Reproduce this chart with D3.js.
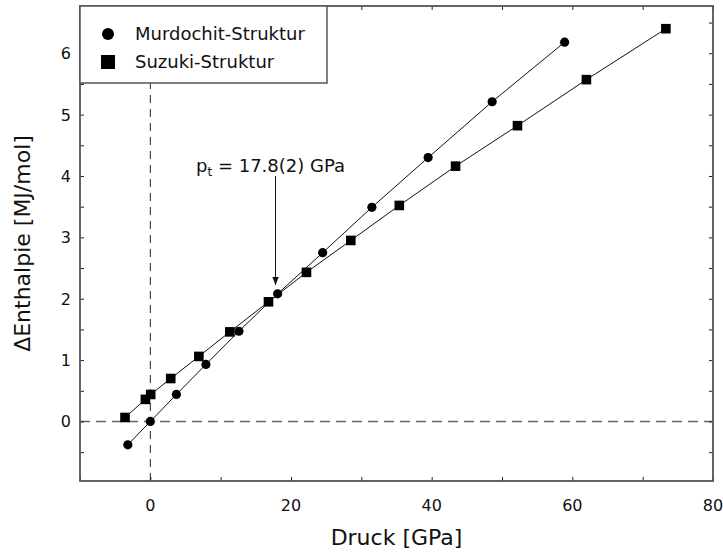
<!DOCTYPE html>
<html>
<head>
<meta charset="utf-8">
<script src="https://cdn.jsdelivr.net/npm/d3@7"></script>
<style>
  body { margin: 0; background: #fff; }
  text { font-family: "DejaVu Sans", sans-serif; fill: #111; }
</style>
</head>
<body>
<div id="chart"></div>
<script>
// Murdochit-Struktur (circles)
var murdP = [-3.2, 0, 3.7, 7.9, 12.6, 18.1, 24.5, 31.5, 39.5, 48.6, 58.9];
var murdH = [-0.38, 0, 0.44, 0.93, 1.47, 2.08, 2.75, 3.49, 4.30, 5.21, 6.18];
// Suzuki-Struktur (squares)
var suzP = [-3.6, -0.7, 0.05, 2.9, 6.9, 11.3, 16.8, 22.2, 28.5, 35.4, 43.4, 52.2, 62.0, 73.3];
var suzH = [0.065, 0.36, 0.44, 0.70, 1.06, 1.46, 1.95, 2.43, 2.95, 3.52, 4.16, 4.82, 5.57, 6.40];

var xTicks = [0, 20, 40, 60, 80];
var yTicks = [0, 1, 2, 3, 4, 5, 6];
var legendNames = ['Murdochit-Struktur', 'Suzuki-Struktur'];
var pTransition = 17.8;

var width = 723, height = 555;
var margin = { left: 80, right: 10, top: 6, bottom: 74 };

var svg = d3.select('#chart').append('svg')
  .attr('width', width)
  .attr('height', height);

var x = d3.scaleLinear().domain([-10, 80]).range([margin.left, width - margin.right]);
var y = d3.scaleLinear().domain([-0.97, 6.77]).range([height - margin.bottom, margin.top]);

var x0 = margin.left, x1 = width - margin.right;
var y0 = height - margin.bottom, y1 = margin.top;

// dashed zero lines
svg.append('line')
  .attr('x1', x0).attr('x2', x1)
  .attr('y1', y(0)).attr('y2', y(0))
  .style('stroke', '#666').style('stroke-width', 1.5)
  .style('stroke-dasharray', '10,6');

svg.append('line')
  .attr('x1', x(0)).attr('x2', x(0))
  .attr('y1', y0).attr('y2', 83)
  .style('stroke', '#222').style('stroke-width', 1)
  .style('stroke-dasharray', '8,6');

// axes (ticks inside)
var minorX = d3.range(-10, 81, 10);
var minorY = d3.range(-0.5, 6.6, 0.5);

svg.append('g')
  .attr('transform', 'translate(0,' + y0 + ')')
  .call(d3.axisBottom(x).tickValues(minorX).tickSize(-4).tickFormat(''));
svg.append('g')
  .attr('transform', 'translate(0,' + y1 + ')')
  .call(d3.axisTop(x).tickValues(minorX).tickSize(-4).tickFormat(''));
svg.append('g')
  .attr('transform', 'translate(' + x0 + ',0)')
  .call(d3.axisLeft(y).tickValues(minorY).tickSize(-4).tickFormat(''));
svg.append('g')
  .attr('transform', 'translate(' + x1 + ',0)')
  .call(d3.axisRight(y).tickValues(minorY).tickSize(-4).tickFormat(''));

svg.selectAll('.domain').remove();
svg.selectAll('.tick line').style('stroke', '#222').style('stroke-width', 1);

// tick labels
svg.selectAll('.xlab')
  .data(xTicks)
  .enter().append('text')
  .attr('x', function (d) { return x(d); })
  .attr('y', y0 + 30)
  .style('text-anchor', 'middle')
  .style('font-size', '16px')
  .text(function (d) { return d; });

svg.selectAll('.ylab')
  .data(yTicks)
  .enter().append('text')
  .attr('x', x0 - 9)
  .attr('y', function (d) { return y(d) + 6; })
  .style('text-anchor', 'end')
  .style('font-size', '16px')
  .text(function (d) { return d; });

// frame
svg.append('rect')
  .attr('x', x0).attr('y', y1)
  .attr('width', x1 - x0).attr('height', y0 - y1)
  .style('fill', 'none').style('stroke', '#555').style('stroke-width', 1.8);

// series lines
var line = d3.line()
  .x(function (d) { return x(d[0]); })
  .y(function (d) { return y(d[1]); });

var murd = d3.zip(murdP, murdH);
var suz = d3.zip(suzP, suzH);

svg.append('path').attr('d', line(murd))
  .style('fill', 'none').style('stroke', '#111').style('stroke-width', 1);
svg.append('path').attr('d', line(suz))
  .style('fill', 'none').style('stroke', '#111').style('stroke-width', 1);

svg.selectAll('.murd')
  .data(murd)
  .enter().append('circle')
  .attr('cx', function (d) { return x(d[0]); })
  .attr('cy', function (d) { return y(d[1]); })
  .attr('r', 4.6)
  .style('fill', '#000');

svg.selectAll('.suz')
  .data(suz)
  .enter().append('rect')
  .attr('x', function (d) { return x(d[0]) - 4.8; })
  .attr('y', function (d) { return y(d[1]) - 4.8; })
  .attr('width', 9.6).attr('height', 9.6)
  .style('fill', '#000');

// annotation arrow
svg.append('defs').append('marker')
  .attr('id', 'arrow')
  .attr('viewBox', '0 0 10 10')
  .attr('refX', 10).attr('refY', 5)
  .attr('markerWidth', 8).attr('markerHeight', 8)
  .attr('markerUnits', 'userSpaceOnUse')
  .attr('orient', 'auto')
  .append('path').attr('d', 'M0,1 L10,5 L0,9 Z').style('fill', '#111');

svg.append('line')
  .attr('x1', x(pTransition)).attr('x2', x(pTransition))
  .attr('y1', 176).attr('y2', 285)
  .style('stroke', '#111').style('stroke-width', 1)
  .attr('marker-end', 'url(#arrow)');

var ann = svg.append('text')
  .attr('x', 196).attr('y', 172)
  .style('font-size', '18px')
  .attr('xml:space', 'preserve');
ann.append('tspan').text('p');
ann.append('tspan').attr('dy', 4).style('font-size', '12px').text('t');
ann.append('tspan').attr('dy', -4).text(' = 17.8(2) GPa');

// legend
svg.append('rect')
  .attr('x', x0).attr('y', y1)
  .attr('width', 247).attr('height', 77)
  .style('fill', '#fff').style('stroke', '#555').style('stroke-width', 1.5);

svg.append('circle').attr('cx', 108).attr('cy', 34).attr('r', 6).style('fill', '#000');
svg.append('rect').attr('x', 101).attr('y', 55).attr('width', 14).attr('height', 14).style('fill', '#000');

svg.selectAll('.legtext')
  .data(legendNames)
  .enter().append('text')
  .attr('x', 135)
  .attr('y', function (d, i) { return 40 + i * 28; })
  .style('font-size', '18px')
  .text(function (d) { return d; });

// axis titles
svg.append('text')
  .attr('x', (x0 + x1) / 2).attr('y', 545)
  .style('text-anchor', 'middle')
  .style('font-size', '22px')
  .text('Druck [GPa]');

svg.append('text')
  .attr('transform', 'translate(30,' + ((y0 + y1) / 2) + ') rotate(-90)')
  .style('text-anchor', 'middle')
  .style('font-size', '22px')
  .text('ΔEnthalpie [MJ/mol]');
</script>
</body>
</html>
